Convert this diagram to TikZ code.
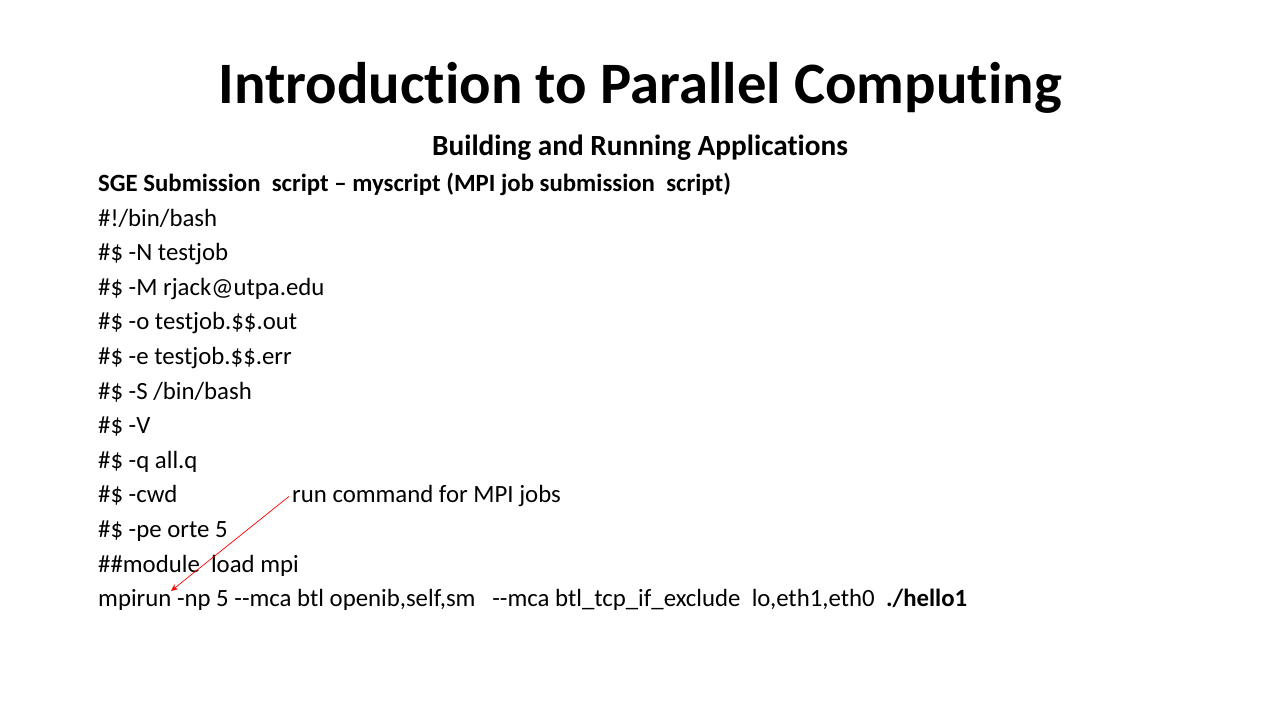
\documentclass[tikz,border=0pt]{standalone}
\usepackage{fontspec}
\setmainfont{Carlito}[Ligatures=NoCommon]
\usetikzlibrary{arrows.meta}
\tikzset{
  body/.style={anchor=base west, inner sep=0pt, font=\fontsize{24.8}{28}\selectfont},
  bodyb/.style={body, font=\fontsize{24.8}{28}\selectfont\bfseries},
  arr/.style={draw=red, line width=0.7pt, -{Stealth[length=7pt,width=6pt]}}
}
\begin{document}
\begin{tikzpicture}[x=1pt,y=-1pt]
\useasboundingbox[fill=white] (0,0) rectangle (1280,720);
\node[anchor=base, inner sep=0pt, font=\fontsize{58.7}{64}\selectfont\bfseries] (title) at (640,103) {Introduction to Parallel Computing};
\node[anchor=base, inner sep=0pt, font=\fontsize{29.3}{32}\selectfont\bfseries] (sub) at (640,155) {Building and Running Applications};
\node[bodyb] (l0) at (98,191.5) {SGE Submission\ \ script – myscript (MPI job submission\ \ script)};
\node[body] (l1) at (98,226.1) {\#!/bin/bash};
\node[body] (l2) at (98,260.7) {\#\$ -N testjob};
\node[body] (l3) at (98,295.3) {\#\$ -M rjack@utpa.edu};
\node[body] (l4) at (98,329.9) {\#\$ -o testjob.\$\$.out};
\node[body] (l5) at (98,364.5) {\#\$ -e testjob.\$\$.err};
\node[body] (l6) at (98,399.1) {\#\$ -S /bin/bash};
\node[body] (l7) at (98,433.7) {\#\$ -V};
\node[body] (l8) at (98,468.3) {\#\$ -q all.q};
\node[body] (l9) at (98,502.9) {\#\$ -cwd};
\node[body] (note) at (292,502.9) {run command for MPI jobs};
\node[body] (l10) at (98,537.5) {\#\$ -pe orte 5};
\node[body] (l11) at (98,572.1) {\#\#module\ \ load mpi};
\node[body] (l12) at (98,606.7) {mpirun -np 5 -{}-mca btl openib,self,sm\ \ \ -{}-mca btl\_tcp\_if\_exclude\ \ lo,eth1,eth0\ \ \textbf{./hello1}};
\coordinate (tip) at (171,591);
\draw[arr] (note.west) ++(-3,0) coordinate (s) (s) -- (tip);
\end{tikzpicture}
\end{document}
